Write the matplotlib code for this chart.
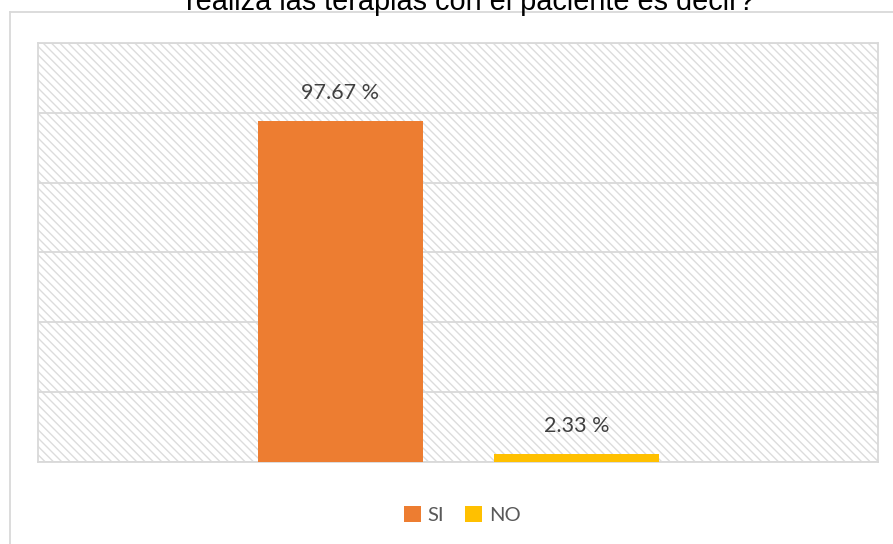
import matplotlib
matplotlib.use("Agg")
import matplotlib.pyplot as plt
from matplotlib.patches import Rectangle, Patch
from matplotlib.lines import Line2D

series = ["SI", "NO"]
values = [97.67, 2.33]
labels = ["97.67 %", "2.33 %"]
colors = ["#ED7D31", "#FFC000"]
title = "realiza las terapias con el paciente es decir?"

W, H = 893, 544
fig = plt.figure(figsize=(W / 100, H / 100), dpi=100)

# outer chart border (cut off at right/bottom in the reference)
border = "#d9d9d9"
fig.add_artist(Line2D([10 / W, 1.0], [1 - 12 / H, 1 - 12 / H], color=border, lw=1.3))
fig.add_artist(Line2D([10 / W, 10 / W], [0.0, 1 - 12 / H], color=border, lw=1.3))

# title is cropped at the top in the original image
fig.text(470 / W, 1 - 10 / H, title, ha="center", va="baseline",
         fontsize=20.8, family="Liberation Sans", color="#000000")

ax = fig.add_axes([38 / W, 1 - 462 / H, (878 - 38) / W, (462 - 43) / H])
ax.add_patch(Rectangle((0, 0), 1, 1, transform=ax.transAxes, facecolor="white",
                       edgecolor="#dcdcdc", hatch="\\\\\\\\", lw=0, zorder=0))

x = list(range(len(series)))
ax.bar(x, values, width=0.70, color=colors, zorder=3)
for xi, v, lab in zip(x, values, labels):
    ax.annotate(lab, (xi, v), xytext=(0, 13), textcoords="offset points",
                ha="center", va="bottom", fontsize=15.5, family="Lato",
                color="#404040")

ax.set_xlim(-1.282, 2.278)
ax.set_ylim(0, 120)
ax.set_yticks(range(0, 121, 20))
ax.grid(axis="y", color=border, lw=1.3, zorder=1)
ax.set_xticks([])
ax.tick_params(axis="y", length=0, labelleft=False)
for s in ax.spines.values():
    s.set_color(border)
    s.set_linewidth(1.3)

handles = [Patch(facecolor=c, label=s) for c, s in zip(colors, series)]
leg = fig.legend(handles=handles, loc="center", bbox_to_anchor=(462 / W, 1 - 515 / H),
                 ncol=2, frameon=False, handlelength=0.85, handleheight=0.85,
                 handletextpad=0.35, columnspacing=1.0,
                 prop={"family": "Lato", "size": 14.5})
for t in leg.get_texts():
    t.set_color("#595959")

fig.savefig("out.png", dpi=100)
